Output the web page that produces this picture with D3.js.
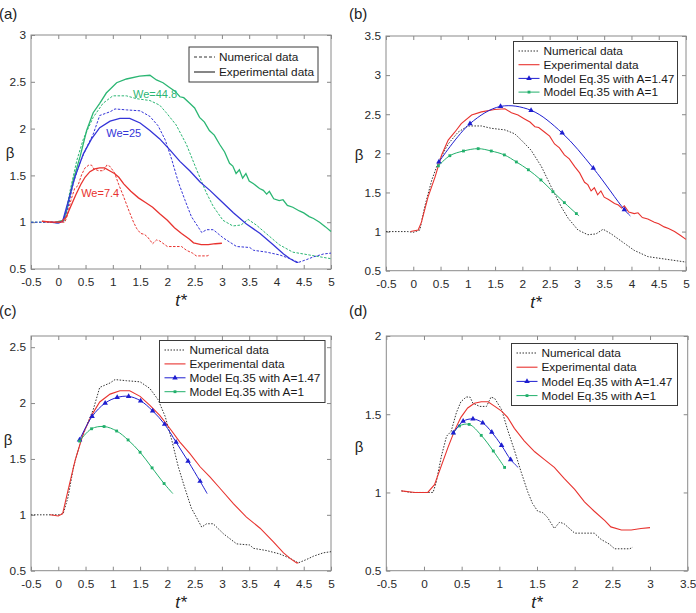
<!DOCTYPE html>
<html>
<head>
<meta charset="utf-8">
<script src="https://cdn.jsdelivr.net/npm/d3@7"></script>
<style>
  body { margin: 0; background: #fff; }
  text { font-family: "Liberation Sans", Arial, sans-serif; }
</style>
</head>
<body>
<svg id="chart" width="696" height="613"></svg>
<script>
// ---- data (t*, beta) ----
const numWe7 = [[-0.3,1.01],[-0.17,1.0],[0,1.0],[0.12,1.0],[0.16,1.06],[0.23,1.23],[0.3,1.36],[0.36,1.39],[0.43,1.51],[0.49,1.58],[0.56,1.61],[0.61,1.61],[0.65,1.57],[0.74,1.55],[0.83,1.55],[0.89,1.61],[0.94,1.6],[1.03,1.53],[1.11,1.4],[1.2,1.27],[1.29,1.13],[1.38,1.0],[1.44,0.93],[1.51,0.88],[1.58,0.87],[1.64,0.84],[1.73,0.77],[1.8,0.81],[1.86,0.8],[2.0,0.74],[2.26,0.74],[2.35,0.7],[2.46,0.67],[2.53,0.64],[2.73,0.64],[2.77,0.65]]
const expWe7 = [[-0.3,1.01],[-0.12,1.0],[0.05,1.0],[0.14,1.05],[0.23,1.17],[0.32,1.29],[0.41,1.4],[0.49,1.48],[0.58,1.54],[0.67,1.57],[0.76,1.58],[0.85,1.58],[0.94,1.55],[1.03,1.52],[1.11,1.48],[1.2,1.41],[1.33,1.33],[1.47,1.26],[1.6,1.21],[1.73,1.16],[1.86,1.09],[2.0,1.02],[2.13,0.94],[2.26,0.88],[2.4,0.82],[2.48,0.78],[2.62,0.76],[2.75,0.76],[2.88,0.77],[3.0,0.775]]
const numWe25 = [[-0.5,1.0],[0,1.0],[0.09,1.01],[0.18,1.16],[0.28,1.43],[0.4,1.64],[0.52,1.8],[0.64,1.94],[0.76,2.14],[0.95,2.18],[1.04,2.21],[1.25,2.2],[1.5,2.19],[1.68,2.13],[1.83,2.03],[1.96,1.88],[2.08,1.67],[2.2,1.43],[2.32,1.24],[2.44,1.06],[2.63,0.89],[2.72,0.92],[2.84,0.92],[3.03,0.83],[3.27,0.74],[3.51,0.73],[3.58,0.7],[3.82,0.68],[4.06,0.65],[4.25,0.61],[4.4,0.57],[4.55,0.6],[4.68,0.63],[4.86,0.66],[5.0,0.67]]
const expWe25 = [[-0.15,1.0],[0,0.99],[0.08,1.01],[0.18,1.22],[0.31,1.49],[0.46,1.73],[0.61,1.89],[0.76,2.01],[0.95,2.08],[1.13,2.11],[1.31,2.11],[1.5,2.06],[1.68,1.98],[1.86,1.89],[2.05,1.77],[2.23,1.65],[2.41,1.55],[2.6,1.43],[2.78,1.34],[2.96,1.24],[3.21,1.1],[3.45,0.98],[3.7,0.88],[3.94,0.76],[4.13,0.66],[4.25,0.61],[4.37,0.57],[4.4,0.57]]
const numWe44 = [[-0.5,1.0],[-0.1,1.0],[0,0.99],[0.12,1.02],[0.21,1.32],[0.34,1.66],[0.46,1.89],[0.64,2.12],[0.82,2.27],[1.0,2.35],[1.25,2.35],[1.43,2.32],[1.68,2.3],[1.86,2.25],[1.98,2.17],[2.16,2.04],[2.35,1.83],[2.53,1.57],[2.71,1.32],[2.84,1.17],[3.02,1.02],[3.2,0.96],[3.35,0.97],[3.48,1.03],[3.63,0.97],[3.87,0.85],[4.05,0.76],[4.3,0.68],[4.6,0.65],[5.0,0.61]]
const expWe44 = [[-0.05,1.0],[0.09,1.02],[0.15,1.12],[0.27,1.44],[0.4,1.7],[0.52,1.98],[0.64,2.17],[0.76,2.27],[0.88,2.38],[1.07,2.49],[1.25,2.53],[1.49,2.56],[1.68,2.57],[1.8,2.52],[1.92,2.49],[2.04,2.44],[2.14,2.4],[2.23,2.34],[2.3,2.33],[2.41,2.27],[2.5,2.22],[2.59,2.12],[2.68,2.07],[2.77,1.98],[2.86,1.93],[2.96,1.83],[3.05,1.75],[3.14,1.63],[3.2,1.6],[3.26,1.52],[3.32,1.56],[3.38,1.47],[3.44,1.52],[3.5,1.44],[3.58,1.41],[3.69,1.36],[3.76,1.34],[3.82,1.3],[3.87,1.33],[3.95,1.25],[4.05,1.23],[4.12,1.24],[4.2,1.18],[4.3,1.16],[4.42,1.12],[4.5,1.1],[4.6,1.06],[4.68,1.04],[4.79,1.0],[4.9,0.95],[5.0,0.9]]

// model Eq.35 points (markers) and the end of each model line
const modelB147 = [[0.47,1.89],[1.04,2.38],[1.6,2.6],[2.16,2.55],[2.73,2.26],[3.3,1.81],[3.87,1.28]]
const modelB1 = [[0.46,1.84],[0.67,1.97],[0.92,2.03],[1.19,2.06],[1.43,2.03],[1.67,1.98],[1.89,1.89],[2.11,1.79],[2.34,1.66],[2.56,1.51],[2.77,1.37],[2.99,1.23]]
const modelC147 = [[0.39,1.67],[0.62,1.88],[0.86,2.0],[1.08,2.05],[1.29,2.06],[1.51,2.02],[1.73,1.93],[1.95,1.81],[2.16,1.65],[2.38,1.48],[2.6,1.3]]
const modelC1 = [[0.39,1.66],[0.61,1.77],[0.84,1.79],[1.07,1.75],[1.28,1.67],[1.5,1.56],[1.72,1.42],[1.94,1.28]]
const modelD147 = [[0.39,1.38],[0.52,1.455],[0.65,1.47],[0.78,1.445],[0.9,1.385],[1.03,1.3],[1.15,1.21]]
const modelD1 = [[0.39,1.38],[0.47,1.425],[0.6,1.435],[0.76,1.365],[0.92,1.265],[1.07,1.16]]
const modelEnds = {B147: [3.98,1.2], B1: [3.04,1.2], C147: [2.73,1.19], C1: [2.1,1.19], D147: [1.25,1.16]}

const xTicksWide = [-0.5,0,0.5,1,1.5,2,2.5,3,3.5,4,4.5,5]
const xTicksD = [-0.5,0,0.5,1,1.5,2,2.5,3,3.5]
const yTicksA = [0.5,1,1.5,2,2.5,3]
const yTicksB = [0.5,1,1.5,2,2.5,3,3.5]
const yTicksC = [0.5,1,1.5,2,2.5]
const yTicksD = [0.5,1,1.5,2]

const legendA = ['Numerical data', 'Experimental data']
const legendModel = ['Numerical data', 'Experimental data', 'Model Eq.35 with A=1.47', 'Model Eq.35 with A=1']
const weLabels = ['We=7.4', 'We=25', 'We=44.8']

const RED = '#e8332f', BLUE = '#3434d8', GREEN = '#2bb673'
const MBLUE = '#1e1ed0', MGREEN = '#22b06c'

const svg = d3.select('#chart')
const lineGen = d3.line()
const smoothGen = d3.line().curve(d3.curveCatmullRom)

// marker shapes: small filled triangle / square like the matlab ones
const markerPath = m => d3.symbol(m === 'tri' ? d3.symbolTriangle : d3.symbolSquare, m === 'tri' ? 13 : 8)()

function panel(cfg){
    const g = svg.append('g')
    const x = d3.scaleLinear().domain(cfg.xDomain).range([cfg.left, cfg.right])
    const y = d3.scaleLinear().domain(cfg.yDomain).range([cfg.bottom, cfg.top])
    const w = cfg.right - cfg.left, h = cfg.bottom - cfg.top

    const fmt = d => String(d)
    const axes = [
        [d3.axisBottom(x).tickValues(cfg.xTicks).tickFormat(fmt).tickPadding(9), `translate(0,${cfg.bottom})`],
        [d3.axisTop(x).tickValues(cfg.xTicks).tickFormat(''), `translate(0,${cfg.top})`],
        [d3.axisLeft(y).tickValues(cfg.yTicks).tickFormat(fmt).tickPadding(5), `translate(${cfg.left},0)`],
        [d3.axisRight(y).tickValues(cfg.yTicks).tickFormat(''), `translate(${cfg.right},0)`]
    ]
    axes.forEach(([ax, tr]) => {
        const a = g.append('g').attr('transform', tr).call(ax.tickSize(-4).tickSizeOuter(0))
        a.select('.domain').remove()
        a.selectAll('line').attr('stroke', '#888')
        a.selectAll('text').attr('fill', '#2a2a2a').style('font-size', '11.8px')
    })
    g.append('rect')
        .attr('x', cfg.left).attr('y', cfg.top).attr('width', w).attr('height', h)
        .attr('fill', 'none').attr('stroke', '#8a8a8a').attr('stroke-width', 1)

    // titles
    g.append('text').attr('x', (cfg.left + cfg.right) / 2).attr('y', cfg.bottom + 37)
        .attr('text-anchor', 'middle').style('font-size', '17px').style('font-style', 'italic')
        .attr('fill', '#222').text('t*')
    g.append('text').attr('x', cfg.betaX).attr('y', cfg.betaY).attr('text-anchor', 'middle')
        .attr('dy', '0.35em').style('font-size', '15px').attr('fill', '#222').text('β')
    g.append('text').attr('x', cfg.tagX).attr('y', cfg.tagY)
        .style('font-size', '15px').attr('fill', '#222').text(cfg.tag)

    const plot = g.append('g')
    cfg.series.forEach(s => {
        const pts = s.end ? s.data.concat([s.end]) : s.data
        const gen = s.smooth ? smoothGen : lineGen
        plot.append('path')
            .attr('d', gen(pts.map(p => [x(p[0]), y(p[1])])))
            .attr('fill', 'none').attr('stroke', s.color)
            .attr('stroke-width', s.width || 1)
            .attr('stroke-dasharray', s.dash || null)
        if (s.marker) {
            plot.selectAll(null).data(s.data).enter().append('path')
                .attr('transform', p => `translate(${x(p[0])},${y(p[1])})`)
                .attr('d', markerPath(s.marker))
                .attr('fill', s.color)
        }
    })

    // legend
    const L = cfg.legend
    const lg = g.append('g')
    lg.append('rect').attr('x', L.x).attr('y', L.y).attr('width', L.w).attr('height', L.h)
        .attr('fill', '#fff').attr('stroke', '#3a3a3a').attr('stroke-width', 1)
    L.items.forEach((it, i) => {
        const cy = L.y + L.first + i * L.step
        lg.append('line').attr('x1', L.x + 5).attr('x2', L.x + 26).attr('y1', cy).attr('y2', cy)
            .attr('stroke', it.color).attr('stroke-width', it.width || 1)
            .attr('stroke-dasharray', it.dash || null)
        if (it.marker) {
            lg.append('path').attr('transform', `translate(${L.x + 15.5},${cy})`)
                .attr('d', markerPath(it.marker))
                .attr('fill', it.color)
        }
        lg.append('text').attr('x', L.x + 30).attr('y', cy).attr('dy', '0.35em')
            .style('font-size', '11.8px').attr('fill', '#1a1a1a').text(it.label)
    })
    return {x, y, g}
}

// (a)
const pa = panel({
    tag: '(a)', tagX: -1, tagY: 19, betaX: 10, betaY: 153,
    left: 31, right: 331, top: 35, bottom: 269,
    xDomain: [-0.5, 5], yDomain: [0.5, 3], xTicks: xTicksWide, yTicks: yTicksA,
    series: [
        {data: numWe44, color: GREEN, dash: '2.5,1.5'},
        {data: expWe44, color: GREEN, width: 1.3},
        {data: numWe25, color: BLUE, dash: '2.5,1.5'},
        {data: expWe25, color: BLUE, width: 1.3},
        {data: numWe7, color: RED, dash: '2.5,1.5'},
        {data: expWe7, color: RED, width: 1.3}
    ],
    legend: {x: 189, y: 47, w: 129, h: 35, first: 10, step: 15, items: [
        {label: legendA[0], color: '#333', dash: '3,2'},
        {label: legendA[1], color: '#444', width: 1.3}
    ]}
})
const weColors = [RED, BLUE, GREEN]
const wePos = [[0.42, 1.27], [0.88, 1.91], [1.37, 2.33]]
weLabels.forEach((t, i) => {
    pa.g.append('text').attr('x', pa.x(wePos[i][0])).attr('y', pa.y(wePos[i][1]))
        .style('font-size', '11px').attr('fill', weColors[i]).text(t)
})

function modelItems(){
    return [
        {label: legendModel[0], color: '#333', dash: '1.5,1.5'},
        {label: legendModel[1], color: RED, width: 1.1},
        {label: legendModel[2], color: MBLUE, marker: 'tri'},
        {label: legendModel[3], color: MGREEN, marker: 'sq'}
    ]
}

// (b)
panel({
    tag: '(b)', tagX: 349, tagY: 19, betaX: 359, betaY: 155,
    left: 386, right: 686, top: 36, bottom: 270.7,
    xDomain: [-0.5, 5], yDomain: [0.5, 3.5], xTicks: xTicksWide, yTicks: yTicksB,
    series: [
        {data: numWe44, color: '#333', dash: '1.5,1.5'},
        {data: expWe44, color: RED, width: 1.1},
        {data: modelB147, end: modelEnds.B147, color: MBLUE, smooth: true, marker: 'tri'},
        {data: modelB1, end: modelEnds.B1, color: MGREEN, smooth: true, marker: 'sq'}
    ],
    legend: {x: 513.5, y: 41.5, w: 164, h: 62, first: 9.5, step: 13.7, items: modelItems()}
})

// (c)
panel({
    tag: '(c)', tagX: -1, tagY: 316, betaX: 8, betaY: 440,
    left: 31, right: 331, top: 336, bottom: 570.7,
    xDomain: [-0.5, 5], yDomain: [0.5, 2.6], xTicks: xTicksWide, yTicks: yTicksC,
    series: [
        {data: numWe25, color: '#333', dash: '1.5,1.5'},
        {data: expWe25, color: RED, width: 1.1},
        {data: modelC147, end: modelEnds.C147, color: MBLUE, smooth: true, marker: 'tri'},
        {data: modelC1, end: modelEnds.C1, color: MGREEN, smooth: true, marker: 'sq'}
    ],
    legend: {x: 159.5, y: 340.5, w: 165.5, h: 62, first: 9.5, step: 13.9, items: modelItems()}
})

// (d)
panel({
    tag: '(d)', tagX: 349, tagY: 316, betaX: 359, betaY: 447,
    left: 386.3, right: 687.7, top: 336, bottom: 570.7,
    xDomain: [-0.5, 3.5], yDomain: [0.5, 2], xTicks: xTicksD, yTicks: yTicksD,
    series: [
        {data: numWe7, color: '#333', dash: '1.5,1.5'},
        {data: expWe7, color: RED, width: 1.1},
        {data: modelD1, color: MGREEN, smooth: true, marker: 'sq'},
        {data: modelD147, end: modelEnds.D147, color: MBLUE, smooth: true, marker: 'tri'}
    ],
    legend: {x: 511.5, y: 343.5, w: 166, h: 62, first: 9.5, step: 14.2, items: modelItems()}
})
</script>
</body>
</html>
